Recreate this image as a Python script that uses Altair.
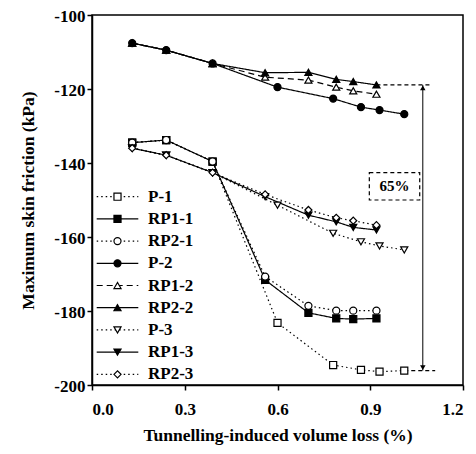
import altair as alt
import pandas as pd

SERIES = ["P-1", "RP1-1", "RP2-1", "P-2", "RP1-2", "RP2-2", "P-3", "RP1-3", "RP2-3"]

P_X = [0.13, 0.24, 0.39, 0.60, 0.78, 0.87, 0.93, 1.01]
RP_X = [0.13, 0.24, 0.39, 0.56, 0.70, 0.79, 0.845, 0.92]

P1 = [-134.5, -133.8, -139.6, -183.2, -194.6, -195.9, -196.4, -196.1]
RP1_1 = [-134.5, -133.8, -139.6, -171.6, -180.5, -182.0, -182.2, -182.0]
RP2_1 = [-134.5, -133.8, -139.6, -170.7, -178.6, -179.9, -179.9, -179.9]
P2 = [-107.6, -109.5, -113.1, -119.5, -122.6, -124.9, -125.7, -126.8]
RP1_2 = [-107.6, -109.5, -113.1, -116.8, -117.6, -119.5, -120.5, -121.4]
RP2_2 = [-107.6, -109.5, -113.1, -115.6, -115.5, -117.4, -118.0, -118.9]
P3 = [-136.0, -137.9, -142.6, -151.4, -159.0, -161.3, -162.4, -163.5]
RP1_3 = [-136.0, -137.9, -142.6, -149.1, -154.1, -155.9, -157.4, -158.1]
RP2_3 = [-136.0, -137.9, -142.6, -148.5, -152.7, -154.8, -155.6, -156.8]

VALUES = [P1, RP1_1, RP2_1, P2, RP1_2, RP2_2, P3, RP1_3, RP2_3]
XS = [P_X, RP_X, RP_X, P_X, RP_X, RP_X, P_X, RP_X, RP_X]

SHAPES = ["square", "square", "circle", "circle", "triangle-up", "triangle-up",
          "triangle-down", "triangle-down", "diamond"]
FILLS = ["white", "black", "white", "black", "white", "black", "white", "black", "white"]
SIZES = [50, 50, 55, 55, 60, 60, 60, 60, 65]
DOT = [1.5, 3]
SOLID = [1, 0]
DASH = [6, 4]
DASHES = [DOT, SOLID, DOT, SOLID, DASH, SOLID, DOT, SOLID, DOT]

# annotation values
REF_TOP = -118.9
REF_BOT = -196.1
ARROW_X = 1.07
TOP_LINE_X = [0.92, 1.10]
BOT_LINE_X = [1.01, 1.11]
BOX_X = [0.897, 1.06]
BOX_Y = [-142.6, -150.0]
BOX_TEXT = "65%"

FONT = "Liberation Serif"

rows = []
for s, xs, ys in zip(SERIES, XS, VALUES):
    for i, (xv, yv) in enumerate(zip(xs, ys)):
        rows.append({"series": s, "x": xv, "y": yv, "order": i})
df = pd.DataFrame(rows)

xenc = alt.X("x:Q", scale=alt.Scale(domain=[0, 1.2], nice=False),
             axis=alt.Axis(values=[0, 0.3, 0.6, 0.9, 1.2], format=".1f",
                           title="Tunnelling-induced volume loss (%)",
                           labelPadding=11, titlePadding=9,
                           titleFontSize=17.5, labelFontSize=17))
yenc = alt.Y("y:Q", scale=alt.Scale(domain=[-200, -100], nice=False),
             axis=alt.Axis(values=[-200, -180, -160, -140, -120, -100],
                           labelExpr="toString(datum.value)",
                           title="Maximum skin friction (kPa)",
                           labelPadding=2, labelOffset=1.5, titleX=-55,
                           titleFontSize=17.5, labelFontSize=17))

dash_scale = alt.Scale(domain=SERIES, range=DASHES)
shape_scale = alt.Scale(domain=SERIES, range=SHAPES)
fill_scale = alt.Scale(domain=SERIES, range=FILLS)
size_scale = alt.Scale(domain=SERIES, range=SIZES)

base = alt.Chart(df)
lines = base.mark_line(color="black", strokeWidth=1.2).encode(
    x=xenc, y=yenc, detail="series:N", order="order:Q",
    strokeDash=alt.StrokeDash("series:N", scale=dash_scale, legend=None),
)
points = base.mark_point(stroke="black", strokeWidth=1.2, opacity=1).encode(
    x=xenc, y=yenc,
    shape=alt.Shape("series:N", scale=shape_scale, legend=None),
    fill=alt.Fill("series:N", scale=fill_scale, legend=None),
    size=alt.Size("series:N", scale=size_scale, legend=None),
)

# reference dashed lines
hl = pd.DataFrame({"x": [TOP_LINE_X[0], BOT_LINE_X[0]], "x2": [TOP_LINE_X[1], BOT_LINE_X[1]],
                   "y": [REF_TOP, REF_BOT]})
hlines = alt.Chart(hl).mark_rule(color="black", strokeWidth=1.2, strokeDash=[4, 3]).encode(
    x=xenc, x2="x2:Q", y=yenc)

arr = pd.DataFrame({"x": [ARROW_X], "y": [REF_TOP], "y2": [REF_BOT]})
arrow = alt.Chart(arr).mark_rule(color="black", strokeWidth=1).encode(x=xenc, y=yenc, y2="y2:Q")
head_top = alt.Chart(pd.DataFrame({"x": [ARROW_X], "y": [REF_TOP]})).mark_point(
    shape="triangle-up", filled=True, color="black", size=30, opacity=1, yOffset=3).encode(x=xenc, y=yenc)
head_bot = alt.Chart(pd.DataFrame({"x": [ARROW_X], "y": [REF_BOT]})).mark_point(
    shape="triangle-down", filled=True, color="black", size=30, opacity=1, yOffset=-3).encode(x=xenc, y=yenc)

box = alt.Chart(pd.DataFrame({"x": [BOX_X[0]], "x2": [BOX_X[1]], "y": [BOX_Y[0]], "y2": [BOX_Y[1]]})).mark_rect(
    fill="white", stroke="black", strokeWidth=1.2, strokeDash=[4, 3]).encode(
    x=xenc, x2="x2:Q", y=yenc, y2="y2:Q")
box_text = alt.Chart(pd.DataFrame({"x": [(BOX_X[0] + BOX_X[1]) / 2], "y": [(BOX_Y[0] + BOX_Y[1]) / 2],
                                   "t": [BOX_TEXT]})).mark_text(
    font=FONT, fontWeight="bold", fontSize=15, color="black", baseline="middle", align="center").encode(
    x=xenc, y=yenc, text="t:N")

# manual legend
leg = pd.DataFrame({"series": SERIES, "idx": list(range(len(SERIES)))})
legbase = alt.Chart(leg).transform_calculate(ly="181.7 + datum.idx * 22.2")
ly = alt.Y("ly:Q", scale=None, axis=None)
leg_lines = legbase.mark_rule(color="black", strokeWidth=1.2).encode(
    x=alt.value(4.7), x2=alt.value(46.3), y=ly,
    strokeDash=alt.StrokeDash("series:N", scale=dash_scale, legend=None))
leg_pts = legbase.mark_point(stroke="black", strokeWidth=1.2, opacity=1).encode(
    x=alt.value(25.5), y=ly,
    shape=alt.Shape("series:N", scale=shape_scale, legend=None),
    fill=alt.Fill("series:N", scale=fill_scale, legend=None),
    size=alt.Size("series:N", scale=size_scale, legend=None))
leg_text = legbase.mark_text(font=FONT, fontWeight="bold", fontSize=17, color="black",
                             align="left", baseline="middle").encode(
    x=alt.value(56), y=ly, text="series:N")

chart = alt.layer(lines, hlines, arrow, head_top, head_bot, box, box_text, points,
                  leg_lines, leg_pts, leg_text).properties(
    width=371, height=370,
    autosize=alt.AutoSizeParams(type="none"),
    padding={"left": 84, "top": 7, "right": 5, "bottom": 60},
).configure_view(stroke="black", strokeWidth=1.5).configure_axis(
    grid=False, domainColor="black", domainWidth=1.5, tickColor="black", tickWidth=1.5,
    tickSize=5, labelFont=FONT, labelFontWeight="bold", labelColor="black",
    titleFont=FONT, titleFontWeight="bold", titleColor="black",
)

chart.save("out.html", embed_options={"renderer": "svg", "actions": False})
